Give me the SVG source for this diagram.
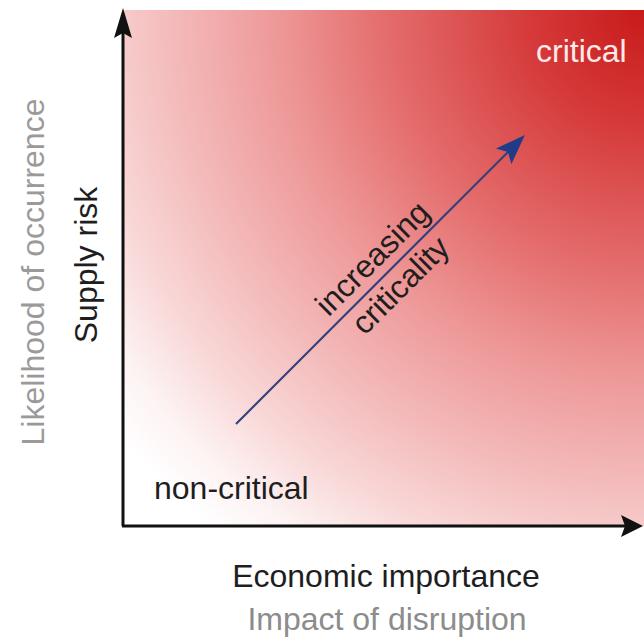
<svg xmlns="http://www.w3.org/2000/svg" width="644" height="643" viewBox="0 0 644 643">
  <style>
    .lbl { font-family: "Liberation Sans", Arial, sans-serif; font-size: 32px; }
    .dark { fill: #1e1e1e; }
    .gray { fill: #9a9a9a; }
    .axis { stroke: #111; stroke-width: 3; fill: none; }
    .trend { stroke: #34417a; stroke-width: 2.2; fill: none; }
  </style>
  <defs>
    <radialGradient id="heat" gradientUnits="userSpaceOnUse" cx="644" cy="10" r="735">
      <stop offset="0" stop-color="#c81a1a"/>
      <stop offset="0.15" stop-color="#d53838"/>
      <stop offset="0.35" stop-color="#e46c6c"/>
      <stop offset="0.5" stop-color="#ee9898"/>
      <stop offset="0.65" stop-color="#f4bcbc"/>
      <stop offset="0.76" stop-color="#f9d8d8"/>
      <stop offset="0.85" stop-color="#fdf3f3"/>
      <stop offset="0.92" stop-color="#ffffff"/>
    </radialGradient>
    <marker id="headUp" markerUnits="userSpaceOnUse" viewBox="0 0 30 18" markerWidth="30" markerHeight="18" refX="8" refY="9" orient="auto">
      <path d="M0,0 L30,9 L0,18 L5,9 Z" fill="#111"/>
    </marker>
    <marker id="headRight" markerUnits="userSpaceOnUse" viewBox="0 0 22 22" markerWidth="22" markerHeight="22" refX="9" refY="11" orient="auto">
      <path d="M0,0 L22,11 L0,22 L4,11 Z" fill="#111"/>
    </marker>
    <marker id="headBlue" markerUnits="userSpaceOnUse" viewBox="0 0 30 22" markerWidth="30" markerHeight="22" refX="16" refY="11" orient="auto">
      <path d="M0,0 L30,11 L0,22 L6,11 Z" fill="#1f3c8a"/>
    </marker>
  </defs>

  <g id="plot-area">
    <rect x="124" y="10" width="520" height="516" fill="url(#heat)"/>
  </g>

  <g id="connectors">
    <line class="axis" x1="123" y1="526" x2="123" y2="30" marker-end="url(#headUp)"/>
    <line class="axis" x1="122" y1="526" x2="630" y2="526" marker-end="url(#headRight)"/>
    <line class="trend" x1="236" y1="424" x2="515" y2="145" marker-end="url(#headBlue)"/>
  </g>

  <g id="trend-label">
    <text class="lbl dark" text-anchor="middle" transform="translate(380,266) rotate(-45)">increasing</text>
    <text class="lbl dark" text-anchor="middle" transform="translate(408,293) rotate(-45)">criticality</text>
  </g>

  <g id="corner-critical">
    <text class="lbl" x="536" y="62" fill="#fdeaea">critical</text>
  </g>

  <g id="corner-noncritical">
    <text class="lbl dark" x="154" y="499">non-critical</text>
  </g>

  <g id="y-axis-labels">
    <text class="lbl gray" text-anchor="middle" transform="translate(44,272) rotate(-90)">Likelihood of occurrence</text>
    <text class="lbl dark" text-anchor="middle" transform="translate(97,265) rotate(-90)">Supply risk</text>
  </g>

  <g id="x-axis-labels">
    <text class="lbl dark" text-anchor="middle" x="386" y="587">Economic importance</text>
    <text class="lbl" text-anchor="middle" x="387" y="630" fill="#8c8c8c">Impact of disruption</text>
  </g>
</svg>
